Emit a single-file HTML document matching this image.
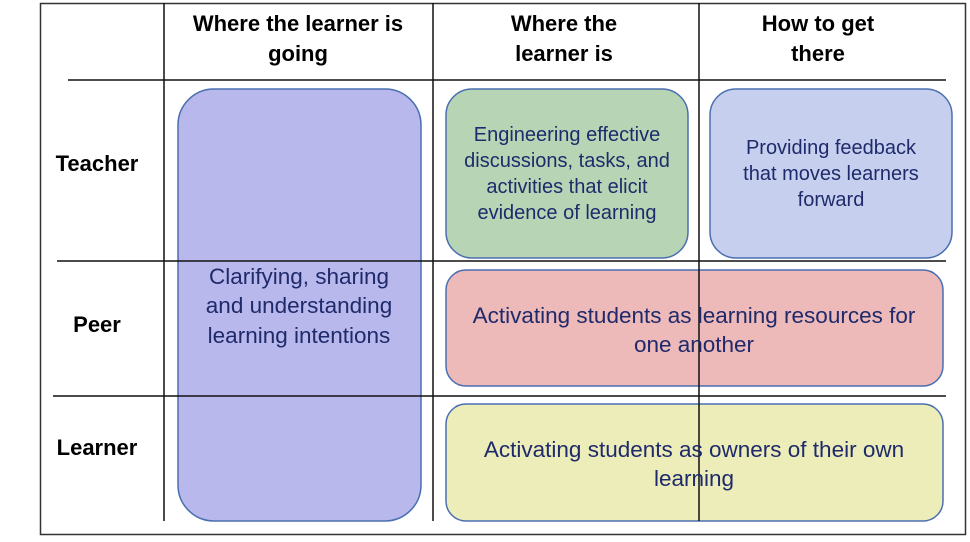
<!DOCTYPE html>
<html><head><style>
body{margin:0;width:970px;height:537px;background:#fff;overflow:hidden}
svg text{font-family:"Liberation Sans",sans-serif}
</style></head><body>
<svg width="970" height="537" xmlns="http://www.w3.org/2000/svg">
<rect x="40.5" y="3.5" width="925" height="531" fill="#fff" stroke="#333" stroke-width="1.5"/>
<g stroke="#4a6fb0" stroke-width="1.5">
<rect x="178" y="89" width="243" height="432" rx="36" fill="#b8b8ec"/>
<rect x="446" y="89" width="242" height="169" rx="26" fill="#b7d5b5"/>
<rect x="710" y="89" width="242" height="169" rx="26" fill="#c6d0ee"/>
<rect x="446" y="270" width="497" height="116" rx="20" fill="#edb9b9"/>
<rect x="446" y="404" width="497" height="117" rx="20" fill="#ededb9"/>
</g>
<g stroke="#111" stroke-width="1.5">
<line x1="68" y1="80" x2="946" y2="80"/>
<line x1="57" y1="261" x2="946" y2="261"/>
<line x1="53" y1="396" x2="946" y2="396"/>
<line x1="164" y1="3" x2="164" y2="521"/>
<line x1="433" y1="3" x2="433" y2="521"/>
<line x1="699" y1="3" x2="699" y2="521"/>
</g>
<g font-weight="bold" font-size="22" fill="#000" text-anchor="middle">
<text x="298" y="31">Where the learner is</text><text x="298" y="61">going</text>
<text x="564" y="31">Where the</text><text x="564" y="61">learner is</text>
<text x="818" y="31">How to get</text><text x="818" y="61">there</text>
<text x="97" y="171">Teacher</text>
<text x="97" y="332">Peer</text>
<text x="97" y="455">Learner</text>
</g>
<g fill="#1f2a6b" text-anchor="middle">
<g font-size="22.5"><text x="299" y="284">Clarifying, sharing</text><text x="299" y="313">and understanding</text><text x="299" y="343">learning intentions</text>
<text x="694" y="323">Activating students as learning resources for</text><text x="694" y="352">one another</text>
<text x="694" y="457">Activating students as owners of their own</text><text x="694" y="486">learning</text></g>
<g font-size="20"><text x="567" y="141">Engineering effective</text><text x="567" y="167">discussions, tasks, and</text><text x="567" y="193">activities that elicit</text><text x="567" y="219">evidence of learning</text>
<text x="831" y="154">Providing feedback</text><text x="831" y="180">that moves learners</text><text x="831" y="206">forward</text></g>
</g>
</svg>
</body></html>
